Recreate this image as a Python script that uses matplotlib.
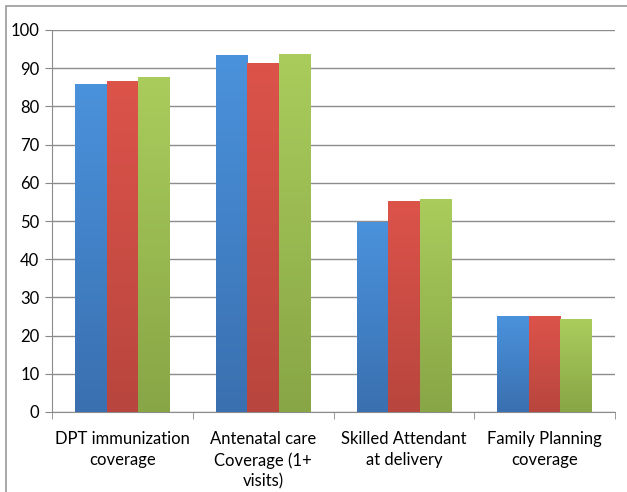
import numpy as np
import matplotlib
matplotlib.use("Agg")
import matplotlib.pyplot as plt
from matplotlib.colors import LinearSegmentedColormap
from matplotlib.patches import Rectangle

categories = ["DPT immunization\ncoverage", "Antenatal care\nCoverage (1+\nvisits)",
              "Skilled Attendant\nat delivery", "Family Planning\ncoverage"]
series_a = [85.8, 93.3, 49.5, 24.9]
series_b = [86.5, 91.3, 55.2, 24.9]
series_c = [87.6, 93.7, 55.6, 24.3]
yticks = list(range(0, 101, 10))

# top / bottom colours of the gradient fill
colors = [("#4a92dc", "#3a70b0"), ("#dc534a", "#b8463e"), ("#aacc5c", "#88a646")]

plt.rcParams['font.family'] = ['Lato', 'DejaVu Sans']
fig = plt.figure(figsize=(6.27, 4.92), dpi=100)
ax = fig.add_axes([52 / 627, 1 - 412 / 492, 563 / 627, 382 / 492])

x = np.arange(len(categories))
w = 0.224
for i, (vals, (top, bot)) in enumerate(zip([series_a, series_b, series_c], colors)):
    bars = ax.bar(x + (i - 1) * w, vals, w, color=top, zorder=3)
    cmap = LinearSegmentedColormap.from_list("g%d" % i, [bot, top])
    for b in bars:
        bx, by = b.get_x(), b.get_y()
        bw, bh = b.get_width(), b.get_height()
        grad = np.linspace(0, 1, 100).reshape(-1, 1)
        im = ax.imshow(grad, cmap=cmap, origin="lower", aspect="auto",
                       extent=[bx, bx + bw, by, by + bh], zorder=3)
        b.set_visible(False)

ax.set_xlim(-0.5, len(categories) - 0.5)
ax.set_ylim(0, 100)
ax.set_yticks(yticks)
ax.tick_params(axis='y', labelsize=12, length=5, color="#888888", pad=4)
ax.set_xticks(x)
ax.set_xticklabels(categories, fontsize=12, linespacing=1.35)
ax.tick_params(axis='x', length=0, pad=14)
ax.set_xticks(np.arange(len(categories) + 1) - 0.5, minor=True)
ax.tick_params(axis='x', which='minor', length=5, color="#888888")
ax.grid(axis='y', color="#8c8c8c", linewidth=1, zorder=0)
for s in ["top", "right"]:
    ax.spines[s].set_visible(False)
for s in ["left", "bottom"]:
    ax.spines[s].set_color("#8c8c8c")

fig.patches.append(Rectangle((6 / 627, -0.01), 1.0, 1 - 6 / 492 + 0.01,
                             transform=fig.transFigure, fill=False,
                             edgecolor="#999999", linewidth=1.2))

fig.savefig("out.png", dpi=100)
